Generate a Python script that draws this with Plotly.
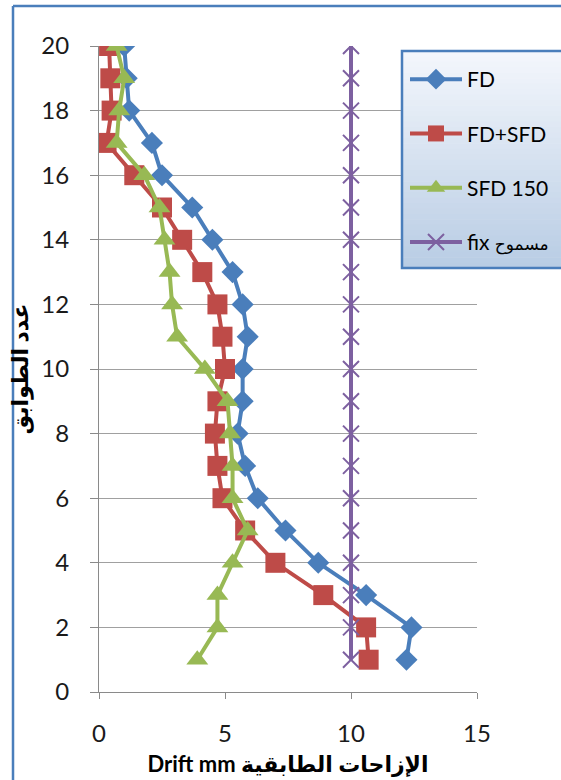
import plotly.graph_objects as go

floors = list(range(1, 21))
fd = [12.2, 12.4, 10.6, 8.7, 7.4, 6.3, 5.8, 5.5, 5.7, 5.7, 5.9, 5.7, 5.3, 4.5, 3.7, 2.5, 2.1, 1.2, 1.1, 1.0]
fd_sfd = [10.7, 10.6, 8.9, 7.0, 5.8, 4.9, 4.7, 4.6, 4.7, 5.0, 4.9, 4.7, 4.1, 3.3, 2.5, 1.4, 0.3, 0.5, 0.45, 0.4]
sfd150 = [3.9, 4.7, 4.7, 5.3, 5.9, 5.3, 5.3, 5.2, 5.1, 4.2, 3.1, 2.9, 2.8, 2.6, 2.4, 1.8, 0.7, 0.8, 1.0, 0.7]
fix = [10] * 20

names = ["FD", "FD+SFD", "SFD 150", "fix <span style='font-size:17px'>مسموح</span>"]
colors = ["#4A7EBB", "#BE4B48", "#98B954", "#7D60A0"]

W, H = 561, 780
L, R, T, B = 99, 84, 46, 88
pw, ph = W - L - R, H - T - B


def px(x):
    return (x - L) / pw


def py(y):
    return (H - B - y) / ph


FONT = "Lato, DejaVu Sans, sans-serif"

fig = go.Figure()
fig.add_trace(go.Scatter(x=fd, y=floors, name=names[0], mode="lines+markers",
                         line=dict(color=colors[0], width=4),
                         marker=dict(symbol="diamond", size=17, color=colors[0]),
                         legendgroup="a"))
fig.add_trace(go.Scatter(x=fd_sfd, y=floors, name=names[1], mode="lines+markers",
                         line=dict(color=colors[1], width=4),
                         marker=dict(symbol="square", size=20, color=colors[1]),
                         legendgroup="b"))
fig.add_trace(go.Scatter(x=sfd150, y=floors, name=names[2], mode="lines+markers",
                         line=dict(color=colors[2], width=4),
                         marker=dict(symbol="triangle-up", size=19, color=colors[2]),
                         legendgroup="c"))
fig.add_trace(go.Scatter(x=fix, y=floors, name=names[3], mode="lines+markers",
                         line=dict(color=colors[3], width=4),
                         marker=dict(symbol="x-thin", size=16, color=colors[3],
                                     line=dict(color=colors[3], width=2)),
                         legendgroup="d"))

shapes = []
# legend box gradient
x0, x1 = px(402), px(575)
ytop, ybot = 51, 268
n = 40
c_top = (244, 247, 252)
c_bot = (184, 204, 228)
for i in range(n):
    t = (i + 0.5) / n
    c = tuple(round(c_top[k] + (c_bot[k] - c_top[k]) * t) for k in range(3))
    ya = ytop + (ybot - ytop) * i / n
    yb = ytop + (ybot - ytop) * (i + 1) / n + 0.6
    shapes.append(dict(type="rect", xref="paper", yref="paper", x0=x0, x1=x1,
                       y0=py(yb), y1=py(ya), line=dict(width=0),
                       fillcolor="rgb(%d,%d,%d)" % c, layer="above"))
shapes.append(dict(type="rect", xref="paper", yref="paper", x0=x0, x1=x1,
                   y0=py(ybot), y1=py(ytop), line=dict(color="#4A7EBB", width=2.5),
                   fillcolor="rgba(0,0,0,0)", layer="above"))
# chart area border (top and left)
shapes.append(dict(type="line", xref="paper", yref="paper", x0=px(13), x1=px(13),
                   y0=py(6), y1=py(800), line=dict(color="#4A7EBB", width=2.5)))
shapes.append(dict(type="line", xref="paper", yref="paper", x0=px(13), x1=px(600),
                   y0=py(6), y1=py(6), line=dict(color="#4A7EBB", width=2.5)))

fig.update_layout(
    width=W, height=H,
    margin=dict(l=L, r=R, t=T, b=B, autoexpand=False),
    paper_bgcolor="white", plot_bgcolor="white",
    font=dict(family=FONT, color="black"),
    shapes=shapes,
    showlegend=True,
    legend=dict(x=px(405), y=py(59), xanchor="left", yanchor="top",
                bgcolor="rgba(0,0,0,0)", borderwidth=0,
                font=dict(size=21, family=FONT, color="black"),
                tracegroupgap=24, itemwidth=52),
    xaxis=dict(range=[0, 15], dtick=5, showgrid=False, zeroline=False,
               showline=True, linecolor="#8A8A8A", linewidth=1,
               ticks="outside", ticklen=6, tickcolor="#8A8A8A",
               tickfont=dict(size=24, family=FONT, color="#1a1a1a"),
               ticklabelstandoff=14,
               title=dict(text="<b>Drift mm الإزاحات الطابقية</b>",
                          font=dict(size=22, family=FONT, color="black"),
                          standoff=10)),
    yaxis=dict(range=[0, 20], dtick=2, showgrid=True, gridcolor="#A0A0A0", gridwidth=1,
               zeroline=False, showline=True, linecolor="#8A8A8A", linewidth=1,
               ticks="outside", ticklen=8, tickcolor="#8A8A8A",
               tickfont=dict(size=24, family=FONT, color="#1a1a1a"),
               ticklabelstandoff=16,
               title=dict(text="<b>عدد الطوابق</b>",
                          font=dict(size=22, family=FONT, color="black"),
                          standoff=6)),
)

fig.write_html("out.html")
